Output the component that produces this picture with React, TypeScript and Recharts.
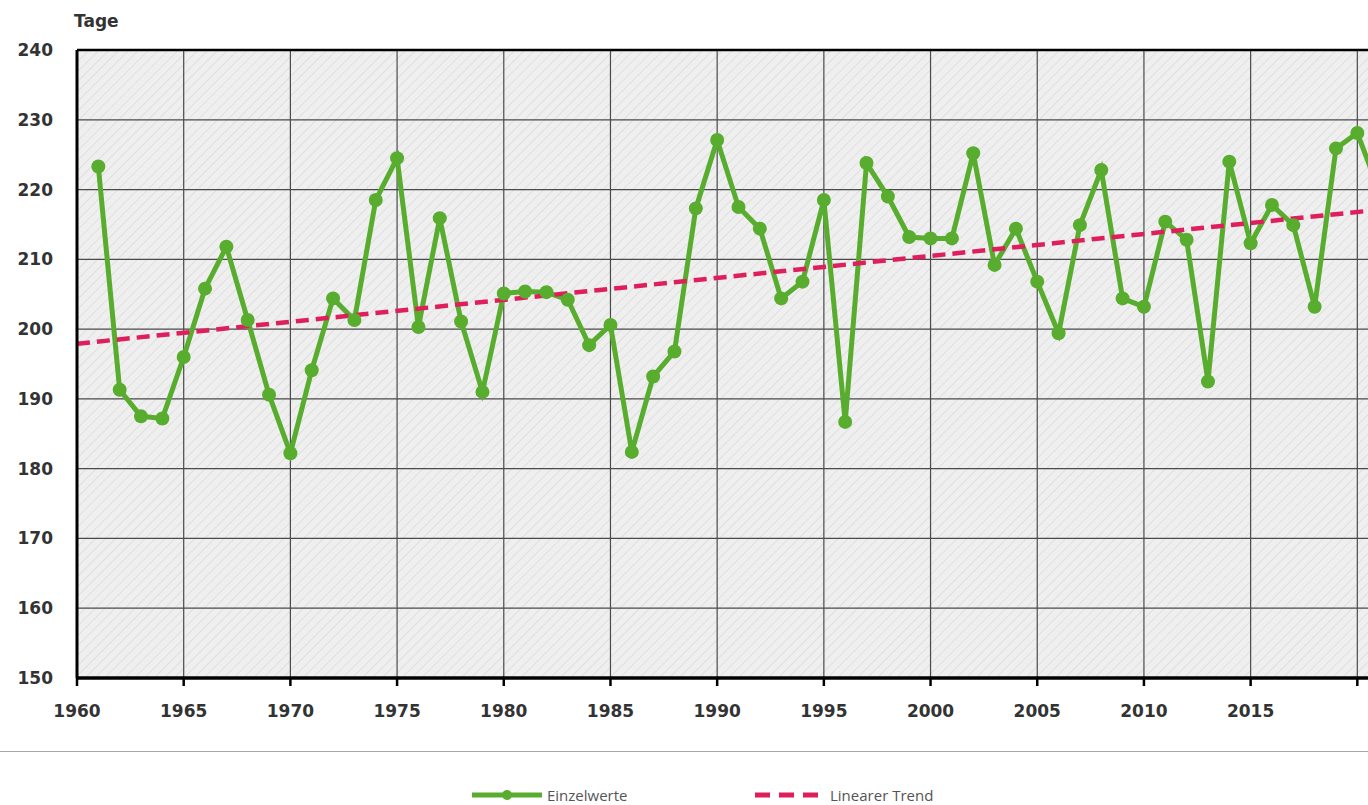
import React from 'react';
import { LineChart, Line, XAxis, YAxis, CartesianGrid, ReferenceLine, Legend } from 'recharts';

const years = [
  1961, 1962, 1963, 1964, 1965, 1966, 1967, 1968, 1969, 1970,
  1971, 1972, 1973, 1974, 1975, 1976, 1977, 1978, 1979, 1980,
  1981, 1982, 1983, 1984, 1985, 1986, 1987, 1988, 1989, 1990,
  1991, 1992, 1993, 1994, 1995, 1996, 1997, 1998, 1999, 2000,
  2001, 2002, 2003, 2004, 2005, 2006, 2007, 2008, 2009, 2010,
  2011, 2012, 2013, 2014, 2015, 2016, 2017, 2018, 2019, 2020,
  2021,
];

const einzelwerte = [
  223.3, 191.3, 187.5, 187.2, 196.0, 205.8, 211.8, 201.3, 190.6, 182.2,
  194.1, 204.4, 201.3, 218.5, 224.5, 200.3, 215.9, 201.1, 191.0, 205.1,
  205.4, 205.3, 204.2, 197.7, 200.6, 182.4, 193.2, 196.8, 217.3, 227.1,
  217.5, 214.4, 204.4, 206.8, 218.5, 186.7, 223.8, 219.0, 213.2, 213.0,
  213.0, 225.2, 209.2, 214.4, 206.8, 199.4, 214.9, 222.8, 204.4, 203.2,
  215.4, 212.8, 192.5, 224.0, 212.3, 217.8, 214.9, 203.2, 225.9, 228.1,
  220.0,
];

const trendYears = [1960, 2021];
const trendValues = [197.9, 217.1];

const xTicks = [1960, 1965, 1970, 1975, 1980, 1985, 1990, 1995, 2000, 2005, 2010, 2015, 2020];
const xLabelled = [1960, 1965, 1970, 1975, 1980, 1985, 1990, 1995, 2000, 2005, 2010, 2015];
const yTicks = [150, 160, 170, 180, 190, 200, 210, 220, 230, 240];

const seriesData = years.map((year, i) => ({ year, value: einzelwerte[i] }));
const trendData = trendYears.map((year, i) => ({ year, trend: trendValues[i] }));

const GREEN = '#58ad2e';
const PINK = '#df1f5b';

const tickStyle = {
  fill: '#333',
  fontFamily: 'DejaVu Sans',
  fontWeight: 'bold' as const,
  fontSize: 17,
};

const renderLegend = (props: any) => {
  const payload = props.payload || [];
  const positions = [472, 755];
  return (
    <div style={{ position: 'relative', width: 1368, height: 16 }}>
      {payload.map((entry: any, i: number) => {
        const isTrend = entry.dataKey === 'trend';
        return (
          <div
            key={entry.value}
            style={{
              position: 'absolute',
              left: positions[i] ?? 0,
              top: 0,
              height: 16,
              lineHeight: '16px',
              display: 'flex',
              alignItems: 'center',
              fontFamily: 'Open Sans',
              fontSize: 15,
              color: '#555',
              whiteSpace: 'nowrap',
            }}
          >
            <svg width={isTrend ? 66 : 70} height={12} style={{ marginRight: isTrend ? 9 : 5 }}>
              {isTrend ? (
                <line x1={0} y1={6} x2={66} y2={6} stroke={PINK} strokeWidth={5} strokeDasharray="15 9" />
              ) : (
                <g>
                  <line x1={0} y1={6} x2={70} y2={6} stroke={GREEN} strokeWidth={5} />
                  <circle cx={35} cy={6} r={5} fill={GREEN} />
                </g>
              )}
            </svg>
            <span>{entry.value}</span>
          </div>
        );
      })}
    </div>
  );
};

const TageLabel = (props: any) => {
  const vb = props.viewBox || { x: 0, y: 50, width: 77 };
  return (
    <text
      x={vb.x + vb.width - 3}
      y={vb.y - 23}
      fill="#333"
      fontFamily="DejaVu Sans"
      fontWeight="bold"
      fontSize={17}
    >
      Tage
    </text>
  );
};

const formatYear = (v: number) => (xLabelled.includes(v) ? String(v) : '');

export default function App() {
  return (
    <div
      style={{
        position: 'absolute',
        left: 0,
        top: 0,
        width: 1368,
        height: 805,
        overflow: 'hidden',
        background: '#fff',
      }}
    >
      <LineChart
        width={1410}
        height={805}
        data={seriesData}
        margin={{ top: 50, right: 10, bottom: 97, left: 0 }}
      >
        <defs>
          <pattern
            id="hatch"
            width="7"
            height="7"
            patternUnits="userSpaceOnUse"
            patternTransform="rotate(45)"
          >
            <rect width="7" height="7" fill="#efefef" />
            <line x1="0" y1="0" x2="0" y2="7" stroke="#d4d4d4" strokeWidth="1.2" />
          </pattern>
        </defs>
        <CartesianGrid
          fill="url(#hatch)"
          fillOpacity={1}
          stroke="#4a4a4a"
          strokeWidth={1.2}
        />
        <XAxis
          dataKey="year"
          type="number"
          domain={[1960, 2022]}
          ticks={xTicks}
          allowDataOverflow
          height={30}
          axisLine={{ stroke: '#000', strokeWidth: 3.5 }}
          tickLine={{ stroke: '#000', strokeWidth: 2.5 }}
          tickSize={8}
          tickMargin={19}
          tick={tickStyle}
          tickFormatter={formatYear}
          interval={0}
        />
        <YAxis
          type="number"
          domain={[150, 240]}
          ticks={yTicks}
          width={77}
          axisLine={{ stroke: '#000', strokeWidth: 3 }}
          tickLine={false}
          tickSize={6}
          tickMargin={18}
          tick={tickStyle}
          interval={0}
          label={<TageLabel />}
        />
        <ReferenceLine y={240} stroke="#000" strokeWidth={2.5} />
        <Line
          dataKey="value"
          name="Einzelwerte"
          stroke={GREEN}
          strokeWidth={5}
          dot={{ r: 7, fill: GREEN, stroke: GREEN, strokeWidth: 0 }}
          activeDot={false}
          isAnimationActive={false}
        />
        <Line
          data={trendData}
          dataKey="trend"
          name="Linearer Trend"
          stroke={PINK}
          strokeWidth={4.5}
          strokeDasharray="13 7"
          dot={false}
          activeDot={false}
          isAnimationActive={false}
        />
        <Legend
          layout="horizontal"
          verticalAlign="middle"
          align="center"
          content={renderLegend}
          wrapperStyle={{ top: 787, left: 0, width: 1368, height: 16 }}
        />
      </LineChart>
      <div
        style={{
          position: 'absolute',
          left: 0,
          top: 751,
          width: 1368,
          height: 0,
          borderTop: '1.5px solid #a8a8a8',
        }}
      />
    </div>
  );
}
